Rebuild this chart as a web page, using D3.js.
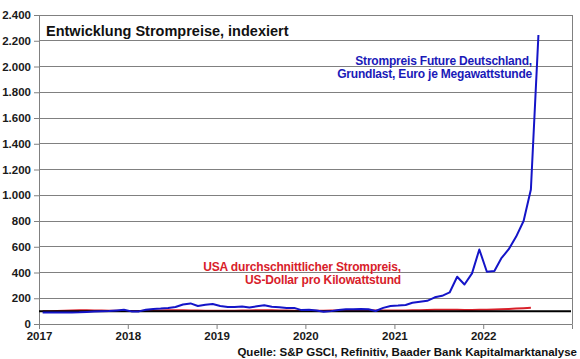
<!DOCTYPE html>
<html><head><meta charset="utf-8">
<script src="https://cdn.jsdelivr.net/npm/d3@7"></script>
<style>body{margin:0;background:#fff}svg{display:block;font-family:"Liberation Sans",Arial,sans-serif}</style>
</head><body><svg id="c" width="580" height="359"></svg>
<script>
const startMonth = "2017-01";
const germanyFuture = [90,90,90,90,90,91,94,97,99,101,105,110,
  98,98,110,117,120,125,132,152,160,140,150,155,
  140,132,132,136,128,138,145,134,130,124,125,108,
  110,104,95,100,108,114,114,116,114,101,125,140,
  143,148,165,172,180,207,219,245,367,307,393,579,
  406,411,509,581,677,800,1045,2245];
const usaPrice = [100,100,101,102,104,106,106,105,104,103,102,101,
  101,101,102,103,104,106,106,106,105,104,103,102,
  102,102,103,104,105,107,107,106,105,104,103,103,
  103,103,103,104,105,106,107,107,106,105,104,104,
  104,105,106,107,108,110,111,111,110,109,109,110,
  111,113,115,117,120,123,126];
const baseline = [100];
const yTicks = [0,200,400,600,800,1000,1200,1400,1600,1800,2000,2200,2400];
const xTickYears = [2017,2018,2019,2020,2021,2022];
const title = "Entwicklung Strompreise, indexiert";
const labelDE = ["Strompreis Future Deutschland,","Grundlast, Euro je Megawattstunde"];
const labelUS = ["USA durchschnittlicher Strompreis,","US-Dollar pro Kilowattstund"];
const source = "Quelle: S&P GSCI, Refinitiv, Baader Bank Kapitalmarktanalyse";

const svg = d3.select("#c");
const L=39,R=572,T=15,B=324;
const x = d3.scaleTime().domain([new Date(2017,0,1), new Date(2023,0,1)]).range([L,R]);
const y = d3.scaleLinear().domain([0,2400]).range([B,T]);
const p = d3.timeParse("%Y-%m");
const s0 = p(startMonth);
const dateAt = i => new Date(s0.getFullYear(), s0.getMonth()+i, 16);
const fmt = d3.formatLocale({decimal:",",thousands:".",grouping:[3],currency:["","€"]}).format(",d");

// grid
svg.append("g").selectAll("line").data(yTicks.filter(d=>d>0)).join("line")
  .attr("x1",L).attr("x2",R).attr("y1",d=>y(d)).attr("y2",d=>y(d))
  .attr("stroke","#808080").attr("stroke-width",1).attr("shape-rendering","crispEdges");
svg.append("line").attr("x1",R).attr("x2",R).attr("y1",T).attr("y2",B)
  .attr("stroke","#808080").attr("shape-rendering","crispEdges");

// axes
const yAx = svg.append("g").attr("transform",`translate(${L},0)`)
  .call(d3.axisLeft(y).tickValues(yTicks).tickSize(5).tickFormat(fmt));
const xAx = svg.append("g").attr("transform",`translate(0,${B})`)
  .call(d3.axisBottom(x).tickValues(xTickYears.map(v=>new Date(v,0,1))).tickSize(5).tickFormat(d3.timeFormat("%Y")));
[yAx,xAx].forEach(g=>{
  g.select(".domain").attr("stroke","#808080");
  g.selectAll(".tick line").attr("stroke","#808080");
  g.selectAll("text").attr("fill","#1a1a1a").style("font-size","11.5px").style("font-weight","bold").style("font-family","'Liberation Sans',Arial,sans-serif");
});
yAx.selectAll("text").attr("x",-8);
xAx.selectAll("text").attr("y",8);

// series
const line = d3.line().x((d,i)=>x(dateAt(i))).y(d=>y(d));
svg.append("path").datum(usaPrice).attr("d",line).attr("fill","none").attr("stroke","#d8202a").attr("stroke-width",2);
svg.append("line").datum(baseline[0]).attr("x1",L).attr("x2",R-1).attr("y1",d=>y(d)).attr("y2",d=>y(d))
  .attr("stroke","#000").attr("stroke-width",2);
svg.append("path").datum(germanyFuture).attr("d",line).attr("fill","none").attr("stroke","#1414c8").attr("stroke-width",2).attr("stroke-linejoin","round");

// texts
svg.append("text").attr("x",46).attr("y",36).text(title)
  .style("font-size","14.5px").style("font-weight","bold").attr("fill","#111");
svg.append("g").selectAll("text").data(labelDE).join("text")
  .attr("x",532).attr("y",(d,i)=>65+i*13).attr("text-anchor","end").text(d=>d)
  .style("font-size","12px").style("font-weight","bold").style("letter-spacing","-0.2px").attr("fill","#1a1ab8");
svg.append("g").selectAll("text").data(labelUS).join("text")
  .attr("x",401).attr("y",(d,i)=>271+i*13).attr("text-anchor","end").text(d=>d)
  .style("font-size","12px").style("font-weight","bold").style("letter-spacing","-0.15px").attr("fill","#d8202a");
svg.append("text").attr("x",577).attr("y",356).attr("text-anchor","end").text(source)
  .style("font-size","11.5px").style("font-weight","bold").attr("fill","#111");
</script></body></html>
